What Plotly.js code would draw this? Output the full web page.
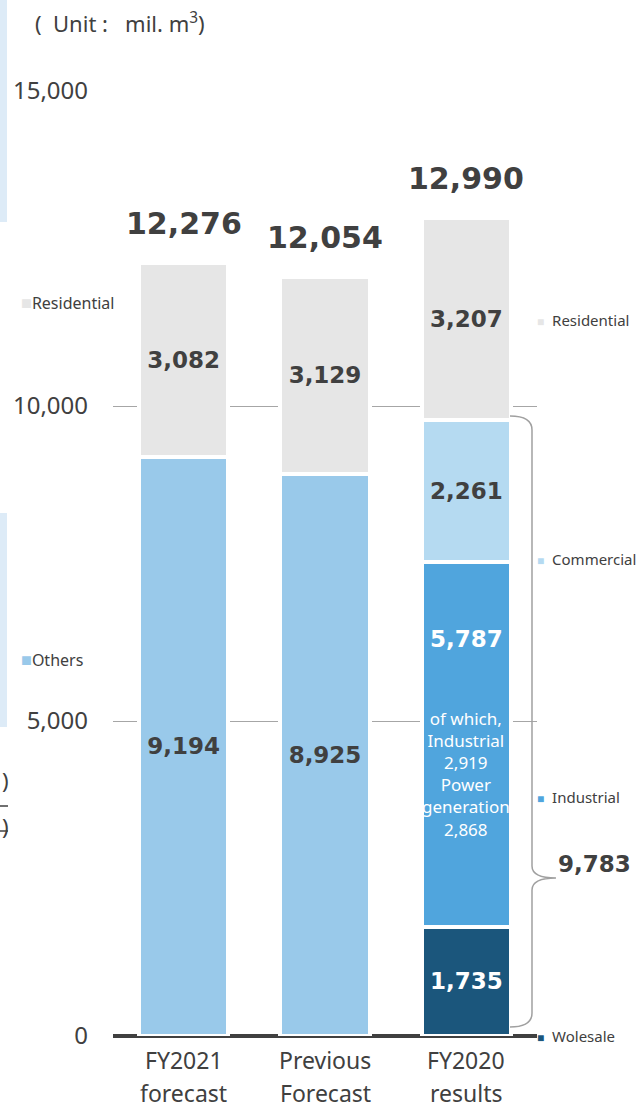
<!DOCTYPE html>
<html>
<head>
<meta charset="utf-8">
<script src="https://cdn.plot.ly/plotly-3.0.1.min.js"></script>
<style>
  html, body { margin: 0; padding: 0; background: #fff; }
  #chart { width: 642px; height: 1111px; }
</style>
</head>
<body>
<div id="chart"></div>
<script>
// Gas sales volume (mil. m3)
const categories = ['FY2021 forecast', 'Previous Forecast', 'FY2020 results'];
const catLine1 = ['FY2021', 'Previous', 'FY2020'];
const catLine2 = ['forecast', 'Forecast', 'results'];

const others      = [9194, 8925, null];
const wholesale   = [null, null, 1735];
const industrial  = [null, null, 5787];
const commercial  = [null, null, 2261];
const residential = [3082, 3129, 3207];

const totals = [12276, 12054, 12990];
const subtotal = 9783;            // FY2020 excluding residential
const industrialUse = 2919;       // of which, industrial
const powerGeneration = 2868;     // of which, power generation

const dark = '#404040';
const colors = {
    residential: '#e6e6e6',
    others: '#99c9ea',
    commercial: '#b5daf1',
    industrial: '#50a5dd',
    wholesale: '#1b567c'
};

// plot area in pixels
const L = 113, R = 105, T = 91, B = 75, W = 642, H = 1111;
const pw = W - L - R, ph = H - T - B;
const px = x => (x - L) / pw;
const py = y => (H - B - y) / ph;

const fmt = v => v == null ? '' : v.toLocaleString('en-US');

function barTrace(name, values, color, textColor) {
    return {
        type: 'bar',
        name: name,
        x: categories,
        y: values,
        text: values.map(fmt),
        textposition: 'inside',
        insidetextanchor: 'middle',
        constraintext: 'none',
        textangle: 0,
        textfont: {family: 'DejaVu Sans', size: 23, color: textColor, weight: 'bold'},
        marker: {color: color, line: {color: '#ffffff', width: 4}},
        hoverinfo: 'skip'
    };
}

const industrialTrace = barTrace('Industrial', industrial, colors.industrial, '#ffffff');
industrialTrace.textposition = 'none';

const data = [
    barTrace('Others', others, colors.others, dark),
    barTrace('Wolesale', wholesale, colors.wholesale, '#ffffff'),
    industrialTrace,
    barTrace('Commercial', commercial, colors.commercial, dark),
    barTrace('Residential', residential, colors.residential, dark)
];

const annotations = [];
const note = (x, y, text, font, xanchor) => annotations.push({
    x: px(x), xref: 'paper', xanchor: xanchor || 'center',
    y: py(y), yref: 'paper', yanchor: 'middle',
    text: text, showarrow: false, font: font
});

// category labels (two lines, wide spacing) and totals above bars
categories.forEach((c, i) => {
    annotations.push({x: c, xref: 'x', xanchor: 'center', y: py(1060), yref: 'paper', yanchor: 'middle',
        text: catLine1[i], showarrow: false, font: {family: 'Noto Sans', size: 23, color: dark}});
    annotations.push({x: c, xref: 'x', xanchor: 'center', y: py(1111), yref: 'paper', yanchor: 'bottom',
        text: catLine2[i], showarrow: false, font: {family: 'Noto Sans', size: 23, color: dark}});
    annotations.push({x: c, xref: 'x', xanchor: 'center', y: totals[i], yref: 'y', yanchor: 'bottom', yshift: 20,
        text: fmt(totals[i]), showarrow: false,
        font: {family: 'DejaVu Sans', size: 30, color: dark, weight: 'bold'}});
});

// industrial segment labels
const indTop = wholesale[2] + industrial[2];
annotations.push({x: categories[2], xref: 'x', xanchor: 'center', y: indTop, yref: 'y', yanchor: 'top', yshift: -62,
    text: fmt(industrial[2]), showarrow: false,
    font: {family: 'DejaVu Sans', size: 23, color: '#ffffff', weight: 'bold'}});
annotations.push({x: categories[2], xref: 'x', xanchor: 'center', y: indTop, yref: 'y', yanchor: 'top', yshift: -143,
    text: 'of which,<br>Industrial<br>' + fmt(industrialUse) + '<br>Power<br>generation<br>' + fmt(powerGeneration),
    showarrow: false, font: {family: 'Noto Sans', size: 17, color: '#ffffff'}});

// subtotal by the brace
note(594, 864, fmt(subtotal), {family: 'DejaVu Sans', size: 23, color: dark, weight: 'bold'});

// unit
note(33, 22, '(  Unit :   mil. m<sup>3</sup>)', {family: 'Noto Sans', size: 22, color: dark}, 'left');

// series names on the right
const sq = c => '<span style="color:' + c + ';font-size:12px">■</span>  ';
[['Residential', colors.residential, 320], ['Commercial', colors.commercial, 559],
 ['Industrial', colors.industrial, 797], ['Wolesale', colors.wholesale, 1036]].forEach(d => {
    note(535, d[2], sq(d[1]) + d[0], {family: 'Noto Sans', size: 15, color: dark}, 'left');
});

// fragments of the neighbouring chart on the left
const sqL = c => '<span style="color:' + c + ';font-size:18px">■</span>';
note(19, 302, sqL(colors.residential) + 'Residential', {family: 'Noto Sans', size: 16, color: dark}, 'left');
note(19, 659, sqL(colors.others) + 'Others', {family: 'Noto Sans', size: 16, color: dark}, 'left');
note(0, 780, ')', {family: 'Noto Sans', size: 22, color: dark}, 'left');
note(0, 826, ')', {family: 'Noto Sans', size: 22, color: dark}, 'left');

// curly brace for FY2020 excl. residential
const pt = (x, y) => px(x).toFixed(4) + ',' + py(y).toFixed(4);
const bracePath = 'M' + pt(510, 416) + ' Q' + pt(532, 416) + ' ' + pt(532, 430) +
    ' L' + pt(532, 866) + ' Q' + pt(532, 878) + ' ' + pt(556, 878) +
    ' Q' + pt(532, 878) + ' ' + pt(532, 890) +
    ' L' + pt(532, 1013) + ' Q' + pt(532, 1027) + ' ' + pt(510, 1027);

const shapes = [
    {type: 'path', xref: 'paper', yref: 'paper', path: bracePath, line: {color: '#a0a0a0', width: 1.5}},
    {type: 'rect', xref: 'paper', yref: 'paper', x0: px(0), x1: px(7), y0: py(222), y1: py(0),
        fillcolor: '#ddebf7', line: {width: 0}},
    {type: 'rect', xref: 'paper', yref: 'paper', x0: px(0), x1: px(7), y0: py(727), y1: py(513),
        fillcolor: '#ddebf7', line: {width: 0}},
    {type: 'line', xref: 'paper', yref: 'paper', x0: px(0), x1: px(8), y0: py(806), y1: py(806),
        line: {color: dark, width: 1.5}},
    {type: 'line', xref: 'paper', yref: 'paper', x0: px(0), x1: px(8), y0: py(831), y1: py(831),
        line: {color: dark, width: 1.5}}
];

const layout = {
    width: W,
    height: H,
    margin: {l: L, r: R, t: T, b: B, pad: 0},
    paper_bgcolor: '#ffffff',
    plot_bgcolor: '#ffffff',
    barmode: 'stack',
    bargap: 0.37,
    showlegend: false,
    xaxis: {
        type: 'category',
        showticklabels: false,
        showgrid: false,
        showline: false,
        zeroline: false,
        fixedrange: true
    },
    yaxis: {
        range: [0, 15000],
        tickvals: [0, 5000, 10000, 15000],
        tickformat: ',d',
        ticks: '',
        ticklabelstandoff: 24,
        tickfont: {family: 'Noto Sans', size: 24, color: dark},
        showgrid: true,
        gridcolor: '#a6a6a6',
        gridwidth: 1,
        zeroline: true,
        zerolinecolor: dark,
        zerolinewidth: 4,
        showline: false,
        fixedrange: true
    },
    annotations: annotations,
    shapes: shapes
};

Plotly.newPlot('chart', data, layout, {displayModeBar: false, staticPlot: true});
</script>
</body>
</html>
